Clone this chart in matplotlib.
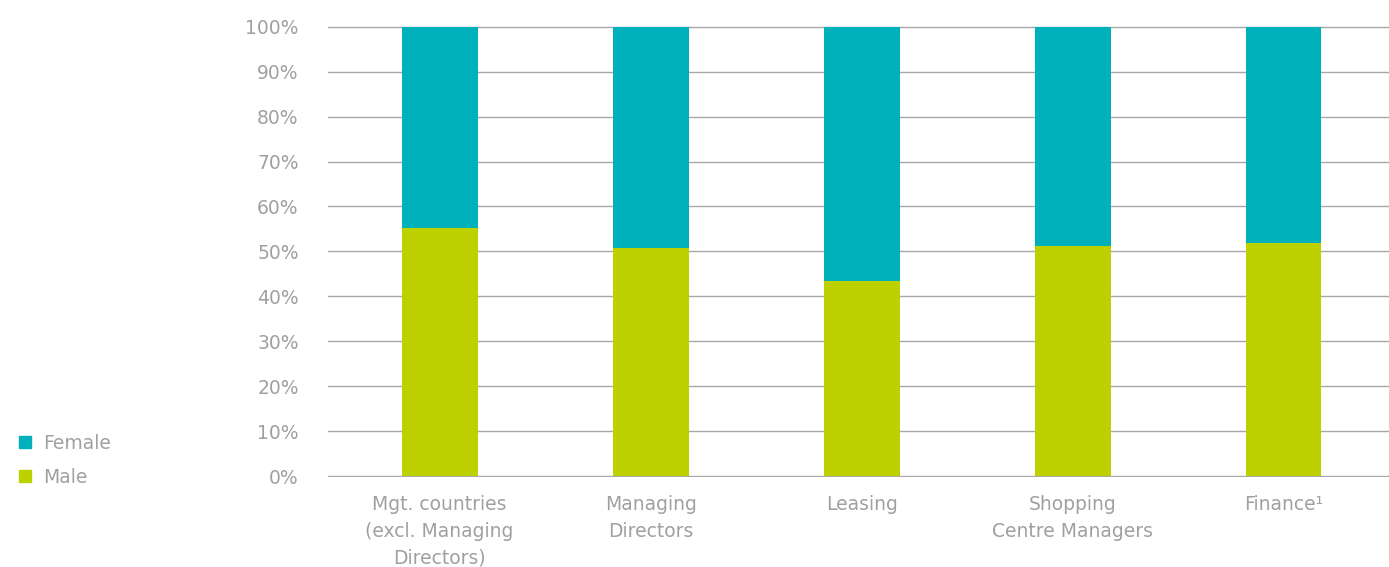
import matplotlib.pyplot as plt
from matplotlib.lines import Line2D
import numpy as np

# Data
categories = ["Mgt. countries\n(excl. Managing\nDirectors)", "Managing\nDirectors", "Leasing",
              "Shopping\nCentre Managers", "Finance¹"]
male = [55.2, 50.8, 43.5, 51.3, 51.9]
female = [100 - m for m in male]
yticks = list(range(0, 101, 10))

male_color = "#bdd000"
female_color = "#00b1bb"
text_color = "#a0a0a0"

plt.rcParams['font.family'] = ['DejaVu Sans']

fig = plt.figure(figsize=(13.89, 5.67), dpi=100)
ax = fig.add_axes([0.236, 0.158, 0.764, 0.797])

x = np.arange(len(categories))
ax.bar(x, male, width=0.36, color=male_color, zorder=3)
ax.bar(x, female, width=0.36, bottom=male, color=female_color, zorder=3)

ax.set_xlim(-0.53, 4.5)
ax.set_ylim(-0.25, 100.25)
ax.set_yticks(yticks)
ax.set_yticklabels([f"{t}%" for t in yticks])
ax.set_xticks(x)
ax.set_xticklabels(categories, linespacing=1.5, va="top")
ax.yaxis.grid(True, color="#a8a8a8", linewidth=1.0, zorder=0)
ax.set_axisbelow(True)

for s in ax.spines.values():
    s.set_visible(False)
ax.tick_params(axis="y", length=0, pad=21, labelsize=13.5, labelcolor=text_color)
ax.tick_params(axis="x", length=0, pad=13, labelsize=13.5, labelcolor=text_color)

handles = [Line2D([], [], marker="s", linestyle="", markersize=8.6, color=female_color),
           Line2D([], [], marker="s", linestyle="", markersize=8.6, color=male_color)]
leg = fig.legend(handles, ["Female", "Male"], loc="upper left", bbox_to_anchor=(-0.001, 0.265),
                 frameon=False, handlelength=1.0, handletextpad=0.5, labelspacing=0.8, fontsize=13.5)
for t in leg.get_texts():
    t.set_color(text_color)

fig.savefig("out.png", dpi=100)
